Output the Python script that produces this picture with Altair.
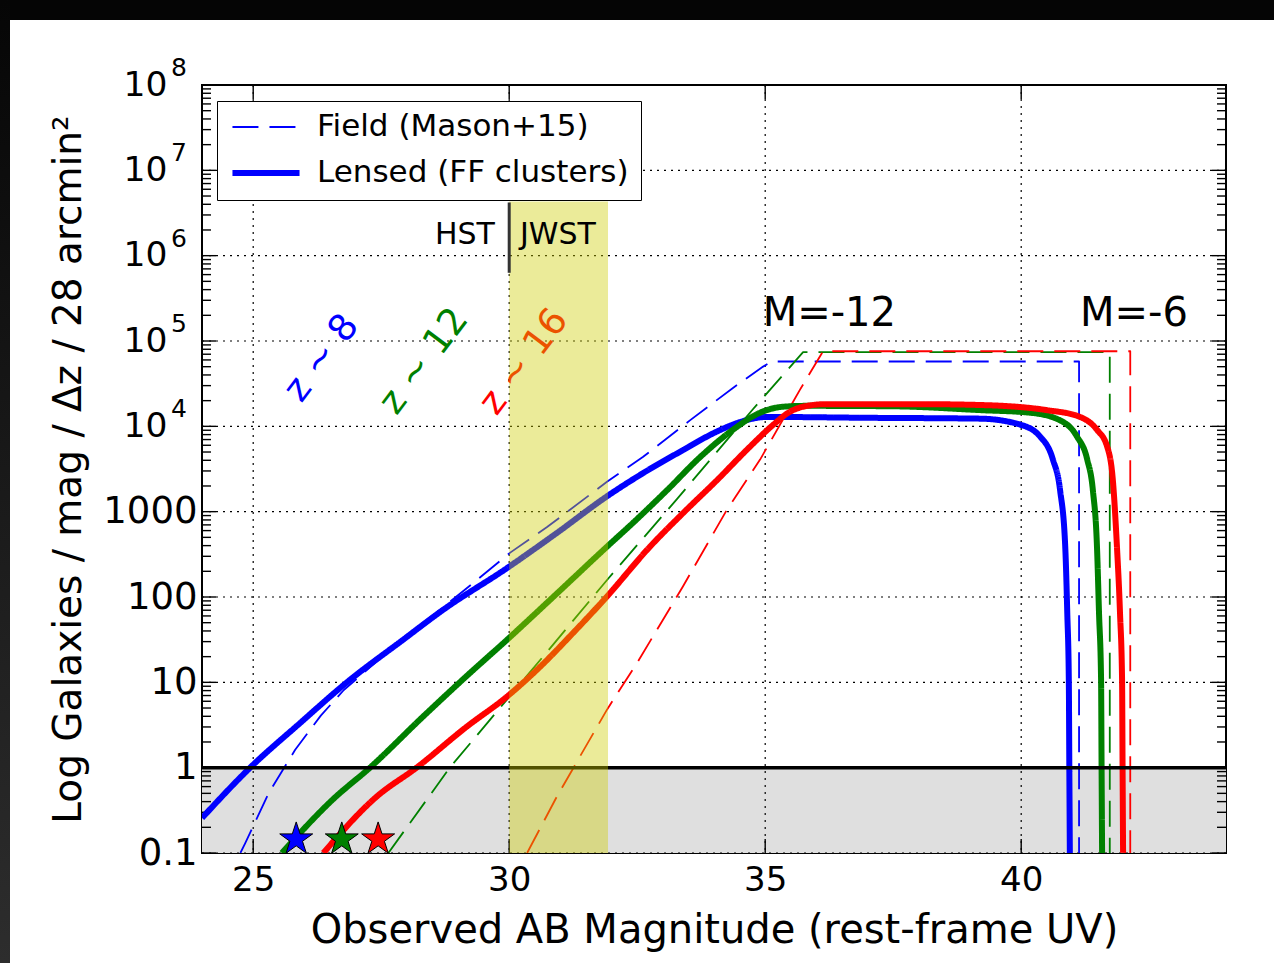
import altair as alt
import pandas as pd

# ---------------------------------------------------------------------------
# Number counts per magnitude: (observed AB magnitude, log10 N)
# Field luminosity functions (Mason+15) -- dashed
field_z8_mag = [24.75, 24.84, 25.30, 25.82, 26.32, 26.77, 27.90, 28.71, 29.37, 30.02,
                30.74, 31.91, 32.61, 33.53, 34.37, 34.96, 35.13, 41.13, 41.13]
field_z8_logn = [-1.00, -0.89, -0.30, 0.21, 0.61, 0.91, 1.50, 1.88, 2.20, 2.52,
                 2.82, 3.35, 3.64, 4.07, 4.45, 4.70, 4.76, 4.76, -1.00]

field_z12_mag = [27.64, 28.84, 30.66, 31.94, 33.28, 34.76, 35.74, 41.73, 41.73]
field_z12_logn = [-1.00, 0.00, 1.30, 2.22, 3.15, 4.20, 4.87, 4.87, -1.00]

field_z16_mag = [30.35, 30.93, 31.91, 32.50, 33.39, 34.25, 34.90, 35.68, 36.13, 42.13, 42.13]
field_z16_logn = [-1.00, -0.34, 0.68, 1.23, 2.12, 3.02, 3.61, 4.43, 4.88, 4.88, -1.00]

# Lensed counts behind the Frontier Fields clusters -- solid
lensed_z8_mag = [24.00, 24.94, 25.91, 26.83, 27.93, 28.71, 29.96, 30.93, 31.91, 32.61,
                 33.39, 34.06, 34.51, 35.03, 37.00, 39.20, 39.98, 40.37, 40.62, 40.76,
                 40.86, 40.90, 40.93, 40.94, 40.95]
lensed_z8_logn = [-0.59, 0.00, 0.52, 1.00, 1.50, 1.85, 2.34, 2.75, 3.18, 3.45,
                  3.72, 3.94, 4.05, 4.11, 4.10, 4.09, 4.02, 3.88, 3.61, 3.25,
                  2.59, 1.81, 1.03, 0.00, -1.00]

lensed_z12_mag = [25.56, 26.56, 27.28, 28.32, 29.18, 29.96, 30.93, 31.91, 32.42, 33.08,
                  33.73, 34.37, 34.90, 35.35, 35.80, 37.50, 39.20, 40.17, 40.76, 41.09,
                  41.29, 41.40, 41.48, 41.52, 41.56, 41.57, 41.58]
lensed_z12_logn = [-1.00, -0.37, 0.00, 0.60, 1.08, 1.50, 2.04, 2.59, 2.87, 3.25,
                   3.64, 3.96, 4.16, 4.23, 4.24, 4.235, 4.19, 4.16, 4.07, 3.88,
                   3.61, 3.25, 2.59, 1.81, 1.03, 0.00, -1.00]

lensed_z16_mag = [26.37, 27.41, 28.19, 29.17, 29.95, 30.60, 31.25, 31.90, 32.75, 33.39,
                  34.06, 34.70, 35.16, 35.48, 35.82, 36.20, 38.00, 39.20, 40.50, 41.15,
                  41.48, 41.68, 41.79, 41.87, 41.93, 41.97, 41.98, 41.99]
lensed_z16_logn = [-1.00, -0.34, 0.00, 0.48, 0.83, 1.18, 1.58, 2.00, 2.59, 2.98,
                   3.37, 3.76, 4.02, 4.17, 4.24, 4.26, 4.26, 4.25, 4.19, 4.11,
                   3.96, 3.76, 3.37, 2.59, 1.81, 1.03, 0.00, -1.00]

# Brightest candidates (stars)
star_z = ["8", "12", "16"]
star_mag = [25.84, 26.73, 27.44]
star_n = [0.145, 0.145, 0.145]

# Redshift labels
zlabel_text = ["z ~ 8", "z ~ 12", "z ~ 16"]
zlabel_z = ["8", "12", "16"]
zlabel_mag = [26.34, 28.34, 30.29]
zlabel_n = [6.3e4, 5.8e4, 5.7e4]

# Absolute-magnitude annotations
mlabel_text = ["M=-12", "M=-6"]
mlabel_mag = [34.95, 41.15]
mlabel_n = [1.5e5, 1.5e5]

# JWST depth band, HST/JWST divider, single-object line, faint (<1) zone
jwst_band = {"mag": [30.0], "mag2": [31.93], "n": [0.1], "n2": [4.3e6]}
divider = {"mag": [30.0], "n": [6.3e5], "n2": [4.2e6]}
hst_label = {"mag": [29.72], "n": [1.37e6], "text": ["HST"]}
jwst_label = {"mag": [30.21], "n": [1.37e6], "text": ["JWST"]}
faint_zone = {"mag": [24.0], "mag2": [44.0], "n": [0.1], "n2": [1.0]}
one_galaxy = {"n": [1.0]}

# Axes
xtick_values = [25, 30, 35, 40]
ytick_values = [0.1, 1, 10, 100, 1000, 1e4, 1e5, 1e6, 1e7, 1e8]
ytick_labels = ["0.1", "1", "10", "100", "1000", "10", "10", "10", "10", "10"]
ypower_values = [1e4, 1e5, 1e6, 1e7, 1e8]
ypower_exponents = ["4", "5", "6", "7", "8"]
yminor_values = [k * 10.0 ** e for e in range(-1, 8) for k in range(2, 10)]

kinds = ["Field (Mason+15)", "Lensed (FF clusters)"]
z_order = ["8", "12", "16"]
z_colors = ["#0000ff", "#008000", "#ff0000"]

# ---------------------------------------------------------------------------
def curve_table(kind, items):
    rows = []
    for z, mags, logns in items:
        for i, (m, ln) in enumerate(zip(mags, logns)):
            rows.append({"mag": m, "n": 10.0 ** ln, "z": z, "kind": kind, "idx": i})
    return pd.DataFrame(rows)


field = curve_table(kinds[0], [("8", field_z8_mag, field_z8_logn),
                               ("12", field_z12_mag, field_z12_logn),
                               ("16", field_z16_mag, field_z16_logn)])
lensed = curve_table(kinds[1], [("8", lensed_z8_mag, lensed_z8_logn),
                                ("12", lensed_z12_mag, lensed_z12_logn),
                                ("16", lensed_z16_mag, lensed_z16_logn)])

FONT = "DejaVu Sans"
W, H = 1024, 768
TMAJ, TMIN = 14, 9

xscale = alt.Scale(domain=[24, 44], nice=False, zero=False)
yscale = alt.Scale(type="log", domain=[0.1, 1e8], nice=False)
zscale = alt.Scale(domain=z_order, range=z_colors)


def label_expr(values, labels):
    expr = "''"
    for v, lab in zip(values[::-1], labels[::-1]):
        expr = f"abs(datum.value - {v!r}) < {v!r} * 1e-6 ? '{lab}' : ({expr})"
    return expr


x_axis = alt.Axis(
    values=xtick_values, format="d", ticks=False, domain=False, grid=False,
    labelFont=FONT, labelFontSize=34, labelColor="black", labelPadding=10,
    labelFlush=False, labelOverlap=False,
    title="Observed AB Magnitude (rest-frame UV)", titleFont=FONT,
    titleFontSize=40, titleFontWeight="normal", titleColor="black",
    titleX=W / 2, titleY=89, titleBaseline="alphabetic",
)
# the mantissa "10" of the power labels sits further left to leave room for its exponent
y_axis = alt.Axis(
    values=ytick_values, labelExpr=label_expr(ytick_values, ytick_labels),
    ticks=False, domain=False, grid=False,
    labelFont=FONT, labelColor="black",
    labelFontSize={"condition": {"test": "datum.value > 9999", "value": 34.5}, "value": 37},
    labelPadding={"condition": {"test": "datum.value > 9999", "value": 35}, "value": 5},
    labelFlush=False, labelOverlap=False,
    title="Log Galaxies / mag / Δz / 28 arcmin²", titleFont=FONT,
    titleFontSize=39, titleFontWeight="normal", titleColor="black",
    titleAngle=270, titleX=-134, titleY=H / 2, titleBaseline="middle",
)


def X(field="mag"):
    return alt.X(f"{field}:Q", scale=xscale, axis=x_axis)


def Y(field="n"):
    return alt.Y(f"{field}:Q", scale=yscale, axis=y_axis)


one = pd.DataFrame({"k": [0]})

# dark frame around the figure
frame_top = alt.Chart(one).mark_rect(color="#050505", clip=False).encode(
    x=alt.value(-202), x2=alt.value(W + 48), y=alt.value(-85), y2=alt.value(-65))
frame_left = alt.Chart(one).mark_rect(
    clip=False,
    color=alt.Gradient(gradient="linear", x1=0, x2=0, y1=0, y2=1,
                       stops=[alt.GradientStop(color="#060606", offset=0),
                              alt.GradientStop(color="#2d2d2d", offset=1)]),
).encode(x=alt.value(-202), x2=alt.value(-192), y=alt.value(-85), y2=alt.value(H + 110))

# exponents of the power-of-ten tick labels
exponents = alt.Chart(pd.DataFrame({"n": ypower_values, "e": ypower_exponents})).mark_text(
    font=FONT, fontSize=25, align="left", baseline="middle", color="black", dy=-17, clip=False
).encode(x=alt.value(-31), y=Y(), text="e:N")

gray = alt.Chart(pd.DataFrame(faint_zone)).mark_rect(color="#dfdfdf").encode(
    x=X(), x2="mag2", y=Y(), y2="n2")

grid_style = dict(color="black", strokeWidth=1.2, strokeDash=[2, 5])
vgrid = alt.Chart(pd.DataFrame({"mag": xtick_values})).mark_rule(**grid_style).encode(x=X())
hgrid = alt.Chart(pd.DataFrame({"n": ytick_values})).mark_rule(**grid_style).encode(y=Y())

tick_style = dict(color="black", strokeWidth=1.4)
ymaj = pd.DataFrame({"n": ytick_values})
ymin = pd.DataFrame({"n": yminor_values})
xmaj = pd.DataFrame({"mag": xtick_values})
ticks = [
    alt.Chart(ymaj).mark_rule(**tick_style).encode(y=Y(), x=alt.value(0), x2=alt.value(TMAJ)),
    alt.Chart(ymaj).mark_rule(**tick_style).encode(y=Y(), x=alt.value(W), x2=alt.value(W - TMAJ)),
    alt.Chart(ymin).mark_rule(**tick_style).encode(y=Y(), x=alt.value(0), x2=alt.value(TMIN)),
    alt.Chart(ymin).mark_rule(**tick_style).encode(y=Y(), x=alt.value(W), x2=alt.value(W - TMIN)),
    alt.Chart(xmaj).mark_rule(**tick_style).encode(x=X(), y=alt.value(H), y2=alt.value(H - TMAJ)),
    alt.Chart(xmaj).mark_rule(**tick_style).encode(x=X(), y=alt.value(0), y2=alt.value(TMAJ)),
]

legend = alt.Legend(
    title=None, orient="none", legendX=15, legendY=16, direction="vertical",
    symbolType="stroke", symbolSize=4500, symbolStrokeColor="#0000ff",
    labelFont=FONT, labelFontSize=31, labelColor="black", labelLimit=0,
    padding=12, rowPadding=15, labelOffset=14, clipHeight=28,
    strokeColor="black", fillColor="white", cornerRadius=0,
)
dash_scale = alt.Scale(domain=kinds, range=[[26, 11], [1, 0]])
width_scale = alt.Scale(domain=kinds, range=[1.8, 6])


def curve_layer(data, interp):
    return alt.Chart(data).mark_line(
        clip=True, strokeCap="butt", strokeJoin="round", interpolate=interp
    ).encode(
        x=X(), y=Y(),
        color=alt.Color("z:N", scale=zscale, legend=None),
        strokeDash=alt.StrokeDash("kind:N", scale=dash_scale, legend=legend),
        strokeWidth=alt.StrokeWidth("kind:N", scale=width_scale, legend=legend),
        order="idx:Q",
    )


field_lines = curve_layer(field, "linear")
lensed_lines = curve_layer(lensed, "monotone")

one_line = alt.Chart(pd.DataFrame(one_galaxy)).mark_rule(color="black", strokeWidth=3.5).encode(y=Y())

zlabels = alt.Chart(pd.DataFrame({"mag": zlabel_mag, "n": zlabel_n, "text": zlabel_text, "z": zlabel_z})
                    ).mark_text(font=FONT, fontSize=37, angle=307, align="center", baseline="middle").encode(
    x=X(), y=Y(), text="text:N", color=alt.Color("z:N", scale=zscale, legend=None))

yellow = alt.Chart(pd.DataFrame(jwst_band)).mark_rect(color="#cccc00", opacity=0.4).encode(
    x=X(), x2="mag2", y=Y(), y2="n2")

star_path = ("M0,-1L0.2245,-0.309L0.951,-0.309L0.363,0.118L0.588,0.809L0,0.382"
             "L-0.588,0.809L-0.363,0.118L-0.951,-0.309L-0.2245,-0.309Z")
stars = alt.Chart(pd.DataFrame({"mag": star_mag, "n": star_n, "z": star_z})).mark_point(
    shape=star_path, size=1200, filled=True, stroke="black", strokeWidth=1, opacity=1, clip=False
).encode(x=X(), y=Y(), fill=alt.Fill("z:N", scale=zscale, legend=None))

divider_rule = alt.Chart(pd.DataFrame(divider)).mark_rule(color="#333333", strokeWidth=3).encode(
    x=X(), y=Y(), y2="n2")
hst_text = alt.Chart(pd.DataFrame(hst_label)).mark_text(
    font=FONT, fontSize=30, align="right", baseline="alphabetic", color="black").encode(
    x=X(), y=Y(), text="text:N")
jwst_text = alt.Chart(pd.DataFrame(jwst_label)).mark_text(
    font=FONT, fontSize=30, align="left", baseline="alphabetic", color="black").encode(
    x=X(), y=Y(), text="text:N")
m_text = alt.Chart(pd.DataFrame({"mag": mlabel_mag, "n": mlabel_n, "text": mlabel_text})).mark_text(
    font=FONT, fontSize=40, align="left", baseline="alphabetic", color="black").encode(
    x=X(), y=Y(), text="text:N")

chart = alt.layer(
    frame_top, frame_left, exponents, gray, vgrid, hgrid, *ticks, field_lines, lensed_lines,
    one_line, zlabels, yellow, stars, divider_rule, hst_text, jwst_text, m_text,
).properties(
    width=W, height=H,
    padding={"left": 202, "top": 85, "right": 48, "bottom": 110},
    autosize=alt.AutoSizeParams(type="none"),
    background="white",
).configure_view(stroke="black", strokeWidth=2)

chart.save("out.html", embed_options={"renderer": "svg", "actions": False})
